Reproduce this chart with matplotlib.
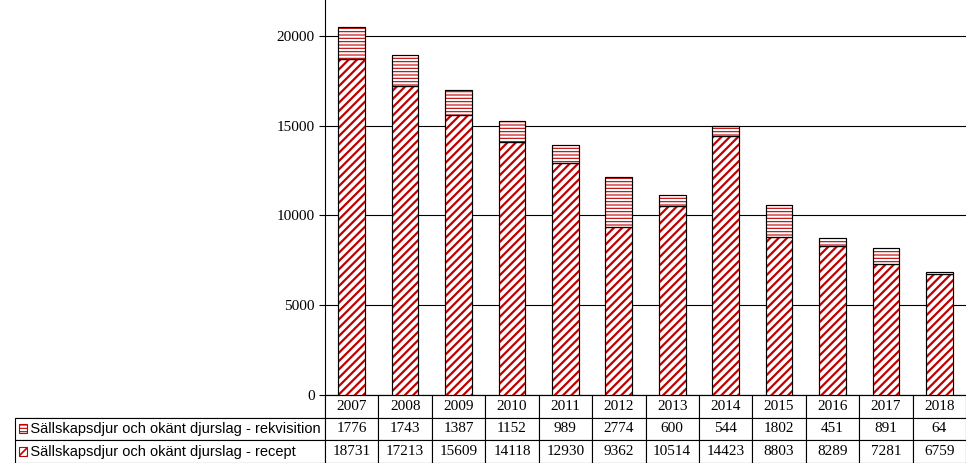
import numpy as np
import matplotlib.pyplot as plt
from matplotlib.patches import Rectangle

years = ["2007", "2008", "2009", "2010", "2011", "2012", "2013", "2014", "2015", "2016", "2017", "2018"]
recept = [18731, 17213, 15609, 14118, 12930, 9362, 10514, 14423, 8803, 8289, 7281, 6759]
rekvisition = [1776, 1743, 1387, 1152, 989, 2774, 600, 544, 1802, 451, 891, 64]
label_rekv = "Sällskapsdjur och okänt djurslag - rekvisition"
label_recept = "Sällskapsdjur och okänt djurslag - recept"

plt.rcParams["font.family"] = "Liberation Serif"
plt.rcParams["hatch.linewidth"] = 1.6
plt.rcParams["hatch.color"] = "#c00000"

W, H = 966, 463
fig = plt.figure(figsize=(W / 100, H / 100), dpi=100)
ax = fig.add_axes([325 / W, (H - 395) / H, (W - 325) / W, 395 / H])

x = np.arange(len(years))
ax.bar(x, recept, width=0.5, color="white", edgecolor="#c00000", hatch="////", linewidth=0.8, zorder=3)
ax.bar(x, recept, width=0.5, color="none", edgecolor="black", linewidth=0.8, zorder=4)
plt.rcParams["hatch.linewidth"] = 0.8
ax.bar(x, rekvisition, bottom=recept, width=0.5, color="white", edgecolor="#c00000", hatch="-----", linewidth=0.8, zorder=3)
ax.bar(x, rekvisition, bottom=recept, width=0.5, color="none", edgecolor="black", linewidth=0.8, zorder=4)

ax.set_xlim(-0.5, len(years) - 0.5)
ax.set_ylim(0, 22000)
ax.set_yticks(range(0, 20001, 5000))
ax.yaxis.grid(True, color="black", linewidth=0.8, zorder=0)
ax.set_xticks([])
ax.tick_params(axis="y", labelsize=11, length=4)
for s in ["top", "right"]:
    ax.spines[s].set_visible(False)

# data table below the axes
label_w = 310 / 641
cell_text = [[""] + years,
             ["   " + label_rekv] + [str(v) for v in rekvisition],
             ["   " + label_recept] + [str(v) for v in recept]]
tbl = ax.table(cellText=cell_text, cellLoc="center",
               colWidths=[label_w] + [1 / len(years)] * len(years),
               bbox=[-label_w, -68 / 395, 1 + label_w, 68 / 395])
tbl.auto_set_font_size(False)
tbl.set_fontsize(11)
for (r, c), cell in tbl.get_celld().items():
    cell.set_linewidth(0.8)
    if c == 0:
        cell.set_text_props(ha="left", fontfamily="Liberation Sans", fontsize=10.5)
        cell.PAD = 0.01
    if r == 0 and c == 0:
        cell.visible_edges = "BR"

# legend keys inside the table
for row, hatch, hw in [(1, "-----", 0.8), (2, "////", 1.2)]:
    plt.rcParams["hatch.linewidth"] = hw
    yc = 68 / 395 * (1 - (row + 0.5) / 3) - 68 / 395
    ax.add_patch(Rectangle((-label_w + 0.006, yc - 0.011), 0.012, 0.024, transform=ax.transAxes,
                           clip_on=False, facecolor="white", edgecolor="#c00000", hatch=hatch,
                           linewidth=0.8, zorder=5))

fig.savefig("out.png", dpi=100)
